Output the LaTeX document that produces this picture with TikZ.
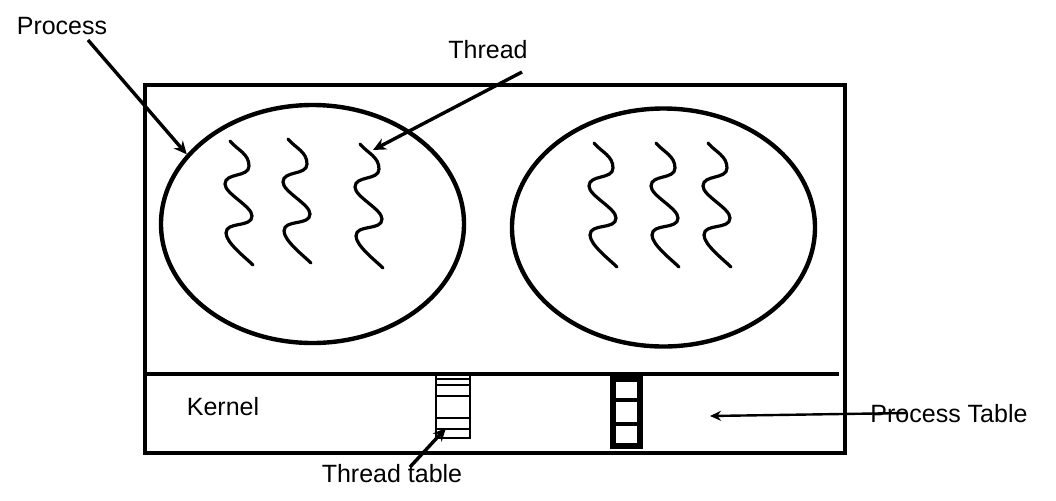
\documentclass[tikz,border=0pt]{standalone}
\usepackage{fontspec}
\setmainfont{Liberation Sans}
\usetikzlibrary{arrows.meta,shapes.geometric}

\begin{document}
\begin{tikzpicture}[x=0.5pt, y=-0.5pt,
  lbl/.style={font=\fontsize{12.5}{15}\selectfont, inner sep=0pt, anchor=base},
  proc/.style={ellipse, draw, line width=2.2pt, inner sep=0pt, minimum width=151.5pt, minimum height=119pt},
  arr/.style={-{Stealth[length=6.5pt,width=6pt]}, line width=1.7pt},
  thinarr/.style={-{Stealth[length=5.5pt,width=5pt]}, line width=1.2pt},
  squig/.style={line width=1.6pt, line cap=round},
  thread/.pic={\draw[squig] (0,0) to[out=-50,in=90] (19,25) to[out=-90,in=90] (-5,43)
     to[out=-90,in=90,looseness=0.6] (22,75) to[out=-90,in=90] (-4,92)
     to[out=-90,in=135,looseness=0.6] (23,124);}
]
  \useasboundingbox (0,0) rectangle (1056,500);

  % address space and kernel
  \draw[line width=2.3pt] (145,85) rectangle (845,453);
  \draw[line width=1.7pt] (145,374) -- (839,374);

  \node[proc] (lproc) at (312.5,224) {};
  \node[proc] (rproc) at (663.5,227.5) {};

  \foreach \x/\y in {230/141, 288/139, 360/144, 594/143, 656/143, 708/143}
    \pic at (\x,\y) {thread};

  % thread table
  \draw[line width=1pt] (436,374) rectangle (470,438);
  \foreach \y in {379,385,396,418,429}
    \draw[line width=1pt] (436,\y) -- (470,\y);

  % process table
  \draw[line width=2.6pt] (613,379) rectangle (640,446);
  \foreach \y in {400,424}
    \draw[line width=2.2pt] (613,\y) -- (640,\y);

  \node[lbl] (ptxt) at (62,34) {Process};
  \node[lbl] (ttxt) at (488,58) {Thread};
  \node[lbl] (ktxt) at (223,415) {Kernel};
  \node[lbl] (tttxt) at (392,482) {Thread table};
  \node[lbl] (pttxt) at (949,422) {Process Table};

  \coordinate (p0) at (88,40);
  \coordinate (t0) at (522,72);
  \coordinate (t1) at (373,150);
  \coordinate (tt0) at (410,467);
  \coordinate (tt1) at (446,428);
  \coordinate (pt0) at (907,413);
  \coordinate (pt1) at (710,416);

  \draw[arr] (p0) -- (lproc.151);
  \draw[arr] (t0) -- (t1);
  \draw[arr] (tt0) -- (tt1);
  \draw[thinarr] (pt0) -- (pt1);
\end{tikzpicture}
\end{document}
